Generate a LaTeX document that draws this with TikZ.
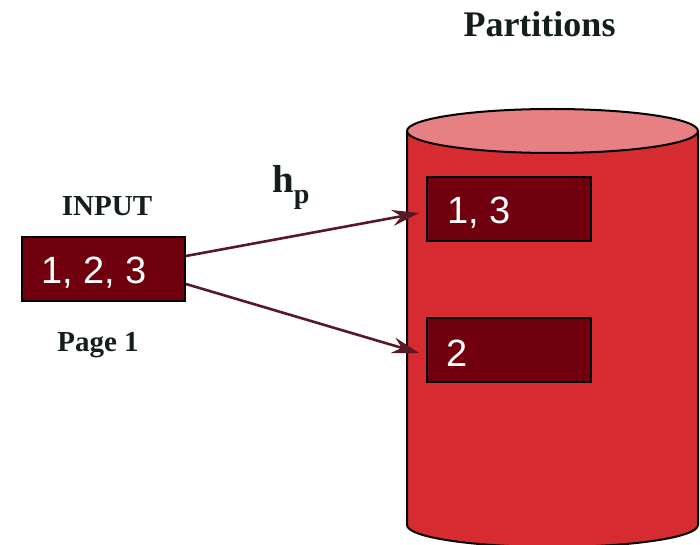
\documentclass[tikz,border=0pt]{standalone}
\usepackage{fontspec}
\setmainfont{Liberation Serif}
\newfontfamily\boxfont{Liberation Sans}
\usetikzlibrary{arrows.meta}
\definecolor{cylbody}{RGB}{214,43,48}
\definecolor{cyltop}{RGB}{231,128,130}
\definecolor{boxred}{RGB}{112,0,14}
\definecolor{arrowred}{RGB}{88,24,38}
\definecolor{labelink}{RGB}{20,30,28}
\tikzset{
  databox/.style={draw=black, line width=1.8pt, fill=boxred, minimum width=164pt, minimum height=64pt, inner sep=0pt},
  boxtext/.style={anchor=base west, inner sep=0pt, text=white, font=\boxfont\fontsize{38}{42}\selectfont},
  label/.style={anchor=base, inner sep=0pt, text=labelink, font=\bfseries\fontsize{29}{32}\selectfont},
  flow/.style={draw=arrowred, line width=2.6pt, -{Stealth[length=27pt, width=16pt, inset=9pt]}},
  cyl/.style={draw=black, line width=2pt}
}
\begin{document}
\begin{tikzpicture}[x=1pt,y=1pt]
\useasboundingbox (0,0) rectangle (700,544);
% cylinder
\fill[cylbody] (407,413) -- (407,19) arc[start angle=180, end angle=360, x radius=145.5pt, y radius=22pt] -- (698,413) -- cycle;
\draw[cyl] (407,413) -- (407,19) arc[start angle=180, end angle=360, x radius=145.5pt, y radius=22pt] -- (698,413);
\draw[cyl, fill=cyltop] (552.5,413) ellipse[x radius=145.5pt, y radius=22pt];
% title
\node[anchor=base, inner sep=0pt, text=labelink, font=\bfseries\fontsize{36}{40}\selectfont] (title) at (539.5,507) {Partitions};
% input
\node[databox, minimum width=163pt] (in) at (103.5,275) {};
\node[boxtext] (intext) at (41,261) {1, 2, 3};
\node[label] (inlabel) at (107,328) {INPUT};
\node[label] (pagelabel) at (98,193) {Page 1};
% partitions
\node[databox] (p1) at (509,335) {};
\node[boxtext] (p1text) at (447,320) {1, 3};
\node[databox] (p2) at (509,194) {};
\node[boxtext] (p2text) at (446,178) {2};
% hash label
\node[anchor=base west, inner sep=0pt, text=labelink, font=\bfseries] (hp) at (272,351) {\fontsize{39}{40}\selectfont h\raisebox{-11pt}{\fontsize{28}{30}\selectfont p}};
% arrows
\draw[flow] ([yshift=13pt]in.east) -- ([xshift=-7pt,yshift=-4pt]p1.west);
\draw[flow] ([yshift=-15pt]in.east) -- ([xshift=-7pt,yshift=-3pt]p2.west);
\end{tikzpicture}
\end{document}
